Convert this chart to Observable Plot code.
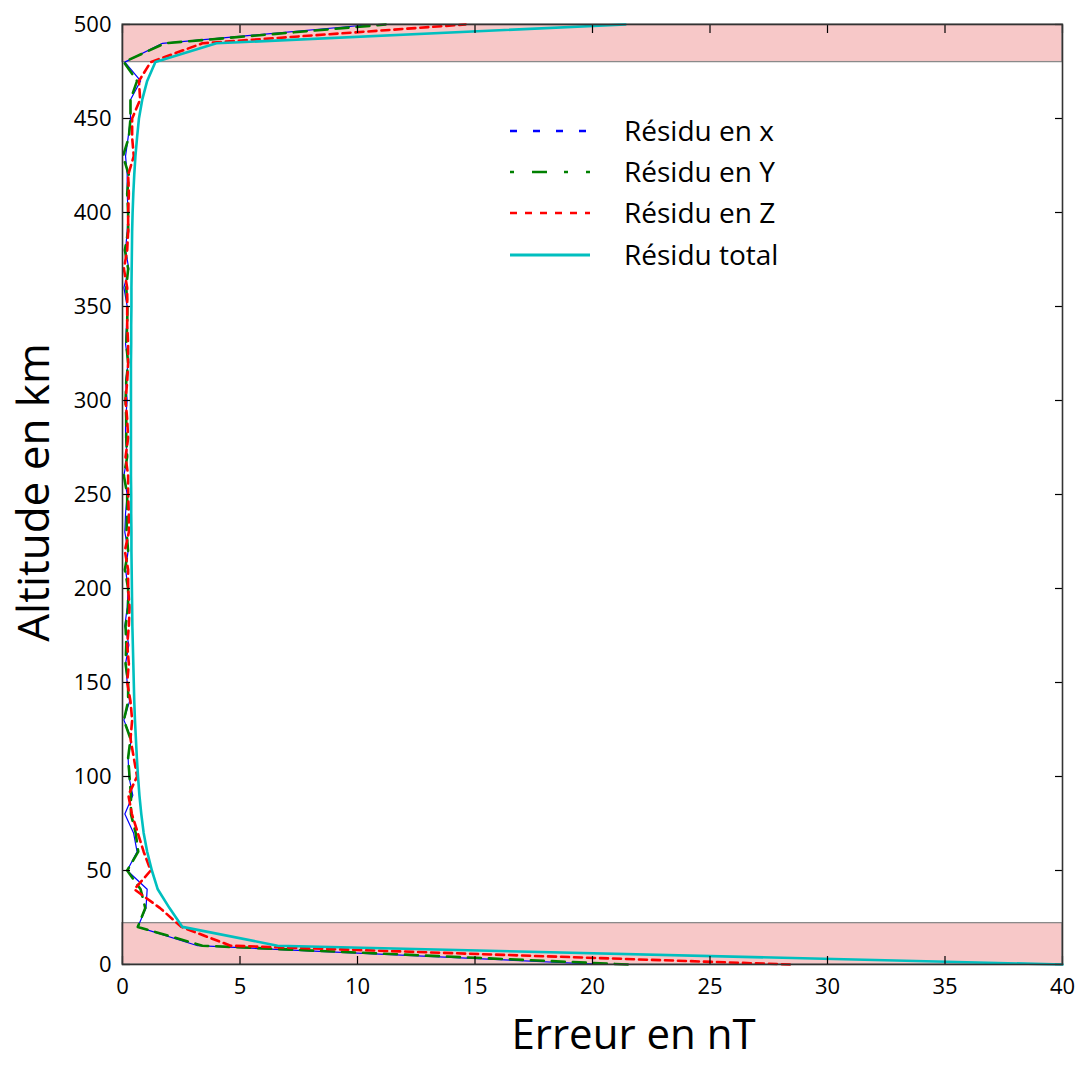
<!DOCTYPE html>
<html>
<head>
<meta charset="utf-8">
<script src="https://cdn.jsdelivr.net/npm/d3@7"></script>
<script src="https://cdn.jsdelivr.net/npm/@observablehq/plot@0.6"></script>
<style>
  html, body { margin: 0; padding: 0; background: #fff; }
  #wrap { position: relative; width: 1080px; height: 1068px; font-family: "Open Sans", sans-serif; }
  #legend { position: absolute; left: 508px; top: 110px; }
  .row { position: absolute; left: 0; height: 40px; width: 320px; }
  .row svg { position: absolute; left: 0; top: 0; }
  .row span { position: absolute; left: 116px; top: 0; line-height: 40px; font-size: 28px; color: #000; white-space: nowrap; }
</style>
</head>
<body>
<div id="wrap"><div id="chart"></div><div id="legend"></div></div>
<script>
// ---------- data ----------
const altitudes = [0,10,20,30,40,50,60,70,80,90,100,110,120,130,140,150,160,170,180,190,200,210,220,230,240,250,260,270,280,290,300,310,320,330,340,350,360,370,380,390,400,410,420,430,440,450,460,470,480,490,500];
const residuX = [20.5,3.2,0.65,1.0,1.05,0.2,0.62,0.47,0.1,0.44,0.27,0.24,0.38,0.06,0.3,0.2,0.13,0.27,0.1,0.2,0.24,0.13,0.24,0.1,0.13,0.2,0.06,0.2,0.13,0.13,0.2,0.13,0.24,0.13,0.17,0.2,0.06,0.27,0.13,0.2,0.24,0.2,0.2,0.13,0.24,0.34,0.34,0.77,0.1,1.7,10.6];
const residuY = [21.5,3.4,0.65,0.97,0.77,0.2,0.67,0.56,0.36,0.36,0.3,0.24,0.34,0.06,0.24,0.24,0.13,0.16,0.13,0.24,0.24,0.1,0.24,0.17,0.2,0.2,0.06,0.2,0.16,0.16,0.13,0.16,0.24,0.16,0.2,0.21,0.16,0.24,0.1,0.24,0.24,0.2,0.27,0.02,0.27,0.34,0.34,0.62,0.06,1.8,11.2];
const residuZ = [28.4,4.6,2.5,1.6,0.5,1.2,0.9,0.65,0.4,0.25,0.62,0.48,0.34,0.41,0.34,0.2,0.27,0.2,0.27,0.3,0.24,0.24,0.1,0.27,0.27,0.24,0.24,0.13,0.24,0.2,0.13,0.2,0.24,0.24,0.2,0.2,0.2,0.06,0.2,0.24,0.24,0.27,0.24,0.48,0.41,0.41,0.75,0.7,1.2,3.4,14.6];
const residuTotal = [40,6.6,2.55,2.0,1.5,1.25,1.05,0.9,0.8,0.72,0.66,0.61,0.57,0.53,0.5,0.48,0.46,0.44,0.42,0.41,0.4,0.39,0.38,0.38,0.37,0.37,0.36,0.36,0.36,0.36,0.36,0.36,0.36,0.37,0.37,0.38,0.38,0.39,0.4,0.41,0.43,0.46,0.5,0.55,0.62,0.7,0.84,1.05,1.4,4.0,21.4];
const xTicks = [0,5,10,15,20,25,30,35,40];
const yTicks = [0,50,100,150,200,250,300,350,400,450,500];
const bandLow = [0, 480];
const bandHigh = [22, 500];
const seriesNames = ["Résidu en x", "Résidu en Y", "Résidu en Z", "Résidu total"];

// ---------- styles ----------
const styles = [
  {stroke: "#0000ff", strokeWidth: 1.2, dash: null, legendDash: "7,16", legendWidth: 2.5},
  {stroke: "#008000", strokeWidth: 2.6, dash: "13,8", legendDash: "4,18,15,17", legendWidth: 2.5},
  {stroke: "#ff0000", strokeWidth: 2.6, dash: "8,5", legendDash: "7,8", legendWidth: 2.5},
  {stroke: "#00bfbf", strokeWidth: 2.6, dash: null, legendDash: null, legendWidth: 3}
];
const seriesValues = [residuX, residuY, residuZ, residuTotal];
const bands = bandLow.map((lo, i) => ({lo, hi: bandHigh[i]}));

const font = "Open Sans, sans-serif";
const lineMarks = seriesValues.map((vals, s) => Plot.line(altitudes, {
  x: (d, i) => vals[i], y: d => d,
  stroke: styles[s].stroke, strokeWidth: styles[s].strokeWidth,
  strokeDasharray: styles[s].dash, strokeLinejoin: "round"
}));

const chart = Plot.plot({
  width: 1080,
  height: 1068,
  marginLeft: 122,
  marginRight: 18,
  marginTop: 24,
  marginBottom: 104,
  style: {fontFamily: font, background: "white", color: "#000"},
  x: {domain: [0, 40]},
  y: {domain: [0, 500]},
  marks: [
    Plot.rect(bands, {x1: xTicks[0], x2: xTicks[xTicks.length - 1], y1: "lo", y2: "hi", fill: "#f7c8c8", stroke: "#8a8a8a", strokeWidth: 1.3}),
    ...lineMarks,
    // labels
    Plot.axisY(yTicks, {anchor: "left", tickSize: 0, tickPadding: 11, fontSize: 22, label: null}),
    Plot.axisX(xTicks, {anchor: "bottom", tickSize: 0, tickPadding: 14, fontSize: 22, label: null}),
    // inward ticks
    Plot.axisY(yTicks, {anchor: "left", tickSize: 8, dx: 8, tickFormat: () => "", label: null, strokeWidth: 1.2}),
    Plot.axisY(yTicks, {anchor: "right", tickSize: 8, dx: -8, tickFormat: () => "", label: null, strokeWidth: 1.2}),
    Plot.axisX(xTicks, {anchor: "bottom", tickSize: 8, dy: -8, tickFormat: () => "", label: null, strokeWidth: 1.2}),
    Plot.axisX(xTicks, {anchor: "top", tickSize: 8, dy: 8, tickFormat: () => "", label: null, strokeWidth: 1.2}),
    Plot.frame({stroke: "#333", strokeWidth: 1.6}),
    Plot.text(["Erreur en nT"], {frameAnchor: "bottom", dx: 41, dy: 84, fontSize: 42, fill: "#000"}),
    Plot.text(["Altitude en km"], {frameAnchor: "left", textAnchor: "middle", dx: -88, dy: -2, rotate: -90, fontSize: 44, fill: "#000"})
  ]
});
document.getElementById("chart").appendChild(chart);

// ---------- legend ----------
const legend = document.getElementById("legend");
seriesNames.forEach((name, s) => {
  const row = document.createElement("div");
  row.className = "row";
  row.style.top = [0, 41, 82, 124][s] + "px";
  const st = styles[s];
  row.innerHTML = `<svg width="100" height="40"><line x1="2" x2="82" y1="21" y2="21" stroke="${st.stroke}" stroke-width="${st.legendWidth}" ${st.legendDash ? `stroke-dasharray="${st.legendDash}"` : ""}/></svg><span>${name}</span>`;
  legend.appendChild(row);
});
</script>
</body>
</html>
